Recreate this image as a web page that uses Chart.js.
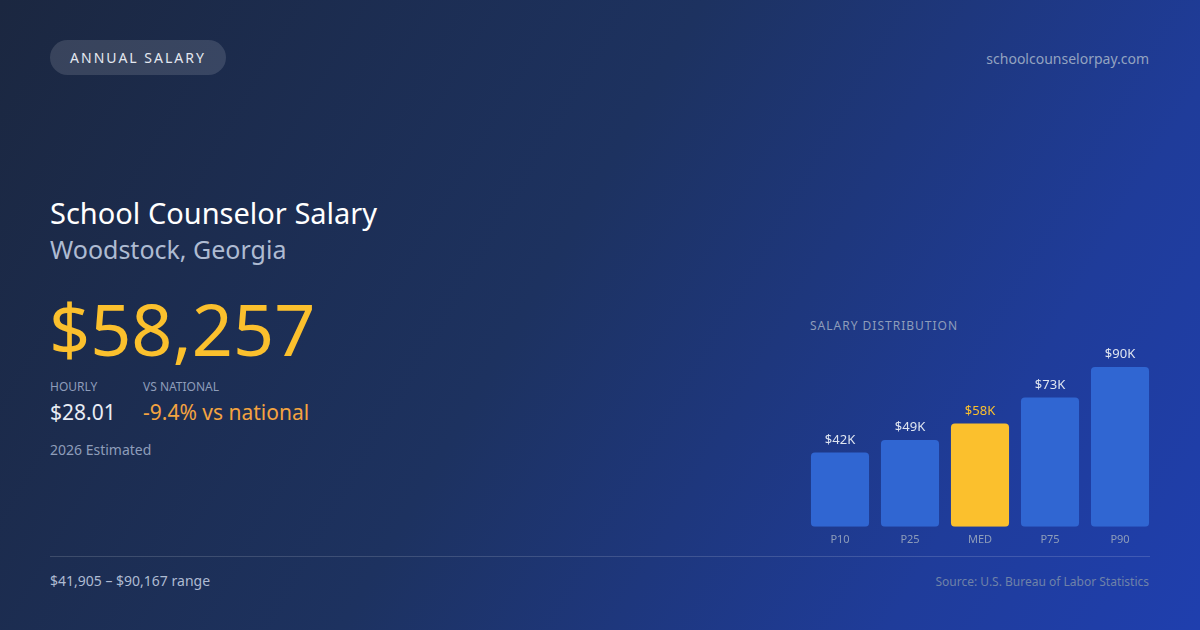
<!DOCTYPE html>
<html>
<head>
<meta charset="utf-8">
<script src="https://cdn.jsdelivr.net/npm/chart.js@4"></script>
<style>
  body { margin: 0; width: 1200px; height: 630px; overflow: hidden; font-family: "Noto Sans", sans-serif; }
  .bg { position: absolute; left: 0; top: 0; width: 1200px; height: 630px;
        background: linear-gradient(120deg, #1b2740 0%, #1d3260 45%, #1f3c9a 80%, #1f3fae 100%); }
  .pill { position: absolute; left: 50px; top: 40px; width: 176px; height: 35px; border-radius: 18px;
          background: rgba(255,255,255,0.13); color: #e4e8f0; font-size: 14px; letter-spacing: 2px;
          line-height: 35px; text-align: center; }
  .site { position: absolute; right: 51px; top: 49px; color: #93a3c0; font-size: 14px; }
  .title { position: absolute; left: 50px; top: 193px; color: #fff; font-size: 29px; }
  .sub { position: absolute; left: 50px; top: 232px; color: #aebbd2; font-size: 25px; }
  .big { position: absolute; left: 49px; top: 292px; color: #fbc02d; font-size: 72px; line-height: 72px; }
  .lab { position: absolute; top: 380px; color: #8e9dba; font-size: 12px; line-height: 14px; }
  .val { position: absolute; top: 398px; font-size: 21px; }
  .est { position: absolute; left: 50px; top: 440px; color: #8e9dba; font-size: 14px; }
  .dist { position: absolute; left: 810px; top: 317px; color: #8e9dba; font-size: 12px; letter-spacing: 1px; }
  .rule { position: absolute; left: 50px; top: 556px; width: 1100px; height: 1px; background: rgba(255,255,255,0.15); }
  .range { position: absolute; left: 50px; top: 571px; color: #aebbd2; font-size: 14px; }
  .src { position: absolute; right: 51px; top: 573px; color: #6f82a8; font-size: 12px; }
  .wrap { position: absolute; left: 805px; top: 337px; width: 350px; height: 207px; }
</style>
</head>
<body>
<div class="bg"></div>
<div class="pill">ANNUAL SALARY</div>
<div class="site">schoolcounselorpay.com</div>
<div class="title">School Counselor Salary</div>
<div class="sub">Woodstock, Georgia</div>
<div class="big">$58,257</div>
<div class="lab" style="left:50px">HOURLY</div>
<div class="lab" style="left:143px">VS NATIONAL</div>
<div class="val" style="left:50px;color:#e8ecf4">$28.01</div>
<div class="val" style="left:143px;color:#f4a340">-9.4% vs national</div>
<div class="est">2026 Estimated</div>
<div class="dist">SALARY DISTRIBUTION</div>
<div class="wrap"><canvas id="grafica"></canvas></div>
<div class="rule"></div>
<div class="range">$41,905 – $90,167 range</div>
<div class="src">Source: U.S. Bureau of Labor Statistics</div>
<script>
const percentiles = ['P10', 'P25', 'MED', 'P75', 'P90'];
const salaries = [41905, 49000, 58257, 73000, 90167];
const barLabels = ['$42K', '$49K', '$58K', '$73K', '$90K'];
const barColors = ['#3066d2', '#3066d2', '#fbc02d', '#3066d2', '#3066d2'];

// Etiquetas encima de cada barra
const etiquetas = {
  id: 'etiquetas',
  afterDatasetsDraw(chart) {
    const ctx = chart.ctx;
    const meta = chart.getDatasetMeta(0);
    ctx.save();
    ctx.font = '13px "Noto Sans"';
    ctx.textAlign = 'center';
    ctx.textBaseline = 'bottom';
    meta.data.forEach((bar, i) => {
      ctx.fillStyle = i === 2 ? '#fbc02d' : '#dfe5f0';
      ctx.fillText(barLabels[i], bar.x, bar.y - 6);
    });
    ctx.restore();
  }
};

new Chart(document.getElementById('grafica'), {
  type: 'bar',
  data: {
    labels: percentiles,
    datasets: [{ data: salaries, backgroundColor: barColors, borderRadius: 4, borderSkipped: false,
                 categoryPercentage: 1, barPercentage: 0.83 }]
  },
  options: {
    responsive: true, maintainAspectRatio: false, animation: false,
    layout: { padding: { top: 30 } },
    plugins: { legend: { display: false }, tooltip: { enabled: false } },
    scales: {
      x: { grid: { display: false }, border: { display: false },
           ticks: { color: '#8e9dba', font: { size: 11, family: 'Noto Sans' }, padding: -2 } },
      y: { display: false, min: 0, max: 90167 }
    }
  },
  plugins: [etiquetas]
});
</script>
</body>
</html>
